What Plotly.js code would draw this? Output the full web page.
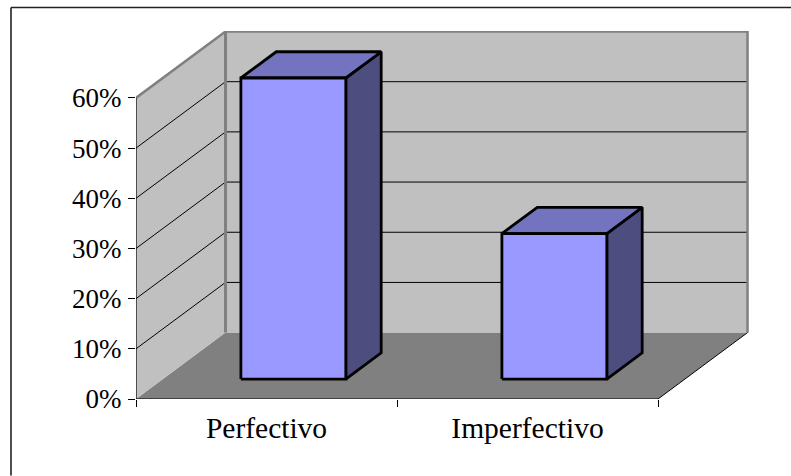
<!DOCTYPE html>
<html>
<head>
<meta charset="utf-8">
<script src="https://cdn.plot.ly/plotly-3.0.1.min.js"></script>
<style>html,body{margin:0;padding:0;background:#fff;overflow:hidden}</style>
</head>
<body>
<div id="chart" style="width:791px;height:476px"></div>
<script>
// Share of each verb aspect, in percent
const categories = ["Perfectivo", "Imperfectivo"];
const shares = [60, 29];
const axisTicks = [0, 10, 20, 30, 40, 50, 60];

// Oblique projection: how far a point one full depth back shifts on the axes
const depthX = 0.343;
const depthY = 13.23;
const axisMax = 60;
const barHalfWidth = 0.201;
const barFront = 0.30;
const barBack = 0.695;

const project = (c, v, d) => [c + d * depthX, v + d * depthY];

function poly(points, fill, lineColor, lineWidth) {
  const p = points.map(q => project(q[0], q[1], q[2]));
  return {
    type: "scatter", mode: "lines", hoverinfo: "skip", showlegend: false, cliponaxis: false,
    x: p.map(q => q[0]), y: p.map(q => q[1]),
    fill: fill ? "toself" : "none", fillcolor: fill || undefined,
    line: lineColor ? {color: lineColor, width: lineWidth, simplify: false} : {width: 0}
  };
}

const n = categories.length;
const traces = [];

// Walls and floor
traces.push(poly([[0,0,0],[n,0,0],[n,0,1],[0,0,1],[0,0,0]], "#808080"));
traces.push(poly([[0,0,1],[n,0,1],[n,axisMax,1],[0,axisMax,1],[0,0,1]], "#C0C0C0"));
traces.push(poly([[0,0,0],[0,0,1],[0,axisMax,1],[0,axisMax,0],[0,0,0]], "#C0C0C0"));

// Gridlines across the side wall and back wall
axisTicks.filter(t => t > 0 && t < axisMax).forEach(t => {
  traces.push(poly([[0,t,0],[0,t,1],[n,t,1]], null, "#000", 1));
});

// Wall edges
traces.push(poly([[0,axisMax,0],[0,axisMax,1],[n,axisMax,1],[n,0,1]], null, "#808080", 2.5));
traces.push(poly([[0,0,1],[0,axisMax,1]], null, "#808080", 3));

// Floor edge and the two axis lines
traces.push(poly([[n,0,0],[n,0,1]], null, "#000", 1));
traces.push(poly([[0,0,0],[n,0,0]], null, "#000", 1.2));
traces.push(poly([[0,0,0],[0,axisMax,0]], null, "#000", 1.2));

// Bars: side, top, then front face
shares.forEach((v, i) => {
  const l = i + 0.5 - barHalfWidth, r = i + 0.5 + barHalfWidth;
  traces.push(poly([[r,0,barFront],[r,0,barBack],[r,v,barBack],[r,v,barFront],[r,0,barFront]], "#4D4D80", "#000", 2.8));
  traces.push(poly([[l,v,barFront],[r,v,barFront],[r,v,barBack],[l,v,barBack],[l,v,barFront]], "#7373BF", "#000", 2.8));
  traces.push(poly([[l,0,barFront],[r,0,barFront],[r,v,barFront],[l,v,barFront],[l,0,barFront]], "#9999FF", "#000", 2.8));
});

const yFont = {family: "Liberation Serif, Times New Roman, serif", size: 27, color: "#000"};
const xFont = {family: "Liberation Serif, Times New Roman, serif", size: 29.5, color: "#000"};

const layout = {
  width: 791, height: 476,
  margin: {l: 136, r: 42, t: 31, b: 76.5, pad: 0},
  paper_bgcolor: "#fff", plot_bgcolor: "rgba(0,0,0,0)",
  showlegend: false,
  xaxis: {
    range: [0, 613 / 261], showgrid: false, zeroline: false, showline: false,
    tickmode: "array", tickvals: categories.map((_, i) => i + 0.5), ticktext: categories,
    ticks: "", tickangle: 0, ticklabelstandoff: 8, tickfont: xFont,
    minor: {tickmode: "array", tickvals: [0, 1, 2], ticks: "outside", ticklen: 7, tickwidth: 1, tickcolor: "#000", showgrid: false}
  },
  yaxis: {
    range: [0, 368.5 / 5.025], showgrid: false, zeroline: false, showline: false,
    tickmode: "array", tickvals: axisTicks, ticktext: axisTicks.map(t => t + "%"),
    ticks: "outside", ticklen: 7, tickwidth: 1, tickcolor: "#000", tickfont: yFont, ticklabelstandoff: 1
  },
  shapes: [
    {type: "line", xref: "paper", yref: "paper", x0: (11-136)/613, x1: (791-136)/613, y0: (399.5-7.5)/368.5, y1: (399.5-7.5)/368.5, line: {color: "#222", width: 1.6}},
    {type: "line", xref: "paper", yref: "paper", x0: (11-136)/613, x1: (11-136)/613, y0: (399.5-7.5)/368.5, y1: (399.5-476)/368.5, line: {color: "#222", width: 1.6}}
  ]
};

Plotly.newPlot("chart", traces, layout, {displayModeBar: false, staticPlot: true});
</script>
</body>
</html>
